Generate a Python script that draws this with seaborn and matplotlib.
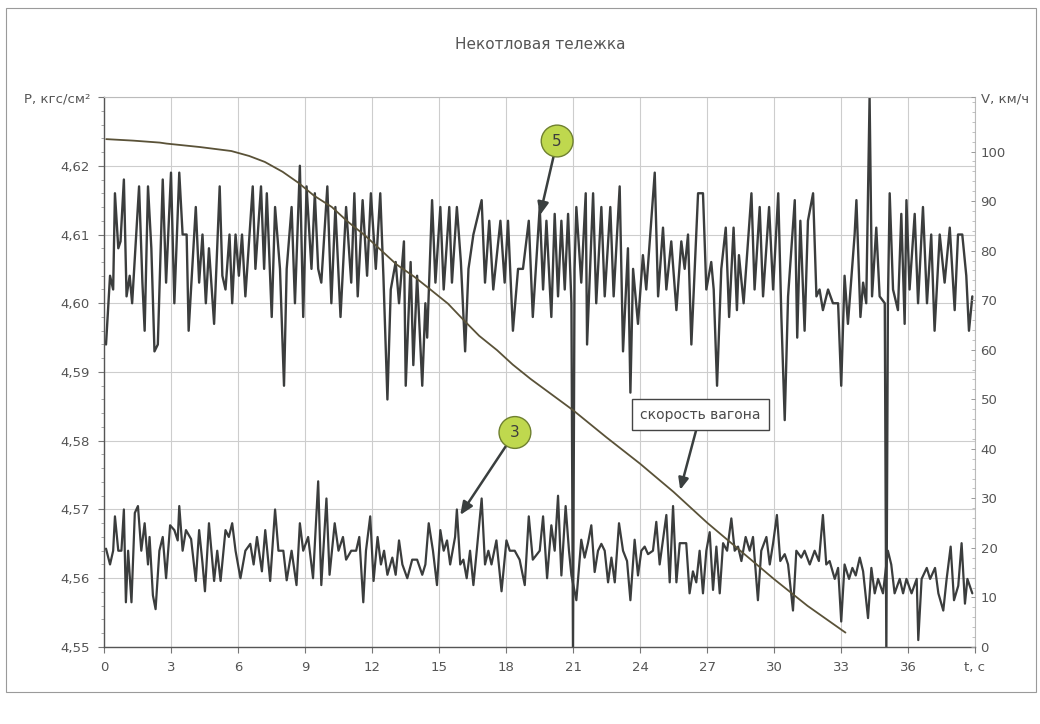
import matplotlib
matplotlib.use("Agg")
import matplotlib.pyplot as plt
from matplotlib.patches import Rectangle
from matplotlib.ticker import FixedLocator, MultipleLocator
import pandas as pd
import seaborn as sns

# --- pressure, curve 5 (кгс/см²) ---
t5 = [0.09, 0.27, 0.41, 0.49, 0.64, 0.74, 0.89, 1.01, 1.15, 1.26, 1.57, 1.72, 1.82, 1.97, 2.12, 2.26, 2.41,
      2.63, 2.78, 3.00, 3.15, 3.37, 3.52, 3.70, 3.79, 4.11, 4.26, 4.41, 4.56, 4.70, 4.93, 5.18, 5.30, 5.44,
      5.62, 5.74, 5.89, 6.04, 6.18, 6.33, 6.66, 6.78, 7.03, 7.17, 7.29, 7.51, 7.66, 7.88, 8.06, 8.18, 8.40,
      8.55, 8.77, 8.92, 9.07, 9.29, 9.44, 9.59, 9.73, 10.00, 10.18, 10.36, 10.59, 10.84, 11.07, 11.21, 11.36,
      11.58, 11.78, 11.95, 12.17, 12.37, 12.51, 12.69, 12.84, 13.06, 13.21, 13.43, 13.51, 13.73, 13.85, 14.02,
      14.25, 14.39, 14.47, 14.69, 14.84, 15.06, 15.21, 15.46, 15.58, 15.80, 15.98, 16.17, 16.32, 16.54, 16.91,
      17.06, 17.25, 17.43, 17.75, 17.94, 18.09, 18.31, 18.54, 18.76, 19.02, 19.20, 19.51, 19.66, 19.81, 20.03,
      20.18, 20.33, 20.48, 20.63, 20.78, 20.93, 21.00, 21.07, 21.15, 21.37, 21.57, 21.63, 21.90, 22.04, 22.27,
      22.42, 22.67, 22.82, 23.09, 23.24, 23.46, 23.57, 23.69, 23.91, 24.13, 24.28, 24.66, 24.81, 25.03, 25.18,
      25.40, 25.63, 25.85, 26.00, 26.15, 26.30, 26.45, 26.60, 26.82, 26.97, 27.19, 27.30, 27.45, 27.64, 27.84,
      27.99, 28.19, 28.34, 28.43, 28.64, 28.99, 29.13, 29.36, 29.51, 29.78, 29.96, 30.19, 30.33, 30.48, 30.63,
      30.93, 31.04, 31.18, 31.37, 31.52, 31.75, 31.90, 32.04, 32.19, 32.42, 32.64, 32.87, 33.01, 33.16, 33.31,
      33.61, 33.69, 33.87, 33.99, 34.13, 34.28, 34.39, 34.58, 34.73, 34.96, 35.03, 35.10, 35.18, 35.33, 35.55,
      35.70, 35.85, 35.93, 36.07, 36.30, 36.45, 36.67, 36.85, 37.04, 37.19, 37.42, 37.64, 37.87, 38.09, 38.24,
      38.43, 38.61, 38.73, 38.88]
p5 = [4.594, 4.604, 4.602, 4.616, 4.608, 4.609, 4.618, 4.601, 4.604, 4.600, 4.617, 4.603, 4.596, 4.617, 4.608,
      4.593, 4.594, 4.618, 4.603, 4.619, 4.600, 4.619, 4.610, 4.610, 4.596, 4.614, 4.603, 4.610, 4.600, 4.608,
      4.597, 4.617, 4.604, 4.602, 4.610, 4.600, 4.610, 4.604, 4.610, 4.601, 4.617, 4.605, 4.617, 4.605, 4.616,
      4.598, 4.614, 4.605, 4.588, 4.605, 4.614, 4.600, 4.620, 4.598, 4.617, 4.605, 4.616, 4.605, 4.603, 4.617,
      4.600, 4.614, 4.598, 4.614, 4.603, 4.616, 4.601, 4.615, 4.604, 4.616, 4.605, 4.616, 4.604, 4.586, 4.602,
      4.606, 4.600, 4.609, 4.588, 4.606, 4.591, 4.604, 4.588, 4.600, 4.595, 4.615, 4.603, 4.614, 4.602, 4.614,
      4.603, 4.614, 4.606, 4.593, 4.605, 4.610, 4.615, 4.603, 4.612, 4.602, 4.612, 4.603, 4.612, 4.596, 4.605,
      4.605, 4.612, 4.598, 4.614, 4.602, 4.612, 4.598, 4.613, 4.601, 4.612, 4.602, 4.613, 4.600, 4.550, 4.605,
      4.614, 4.603, 4.616, 4.594, 4.616, 4.600, 4.614, 4.601, 4.614, 4.601, 4.617, 4.593, 4.608, 4.587, 4.605,
      4.597, 4.607, 4.602, 4.619, 4.601, 4.611, 4.602, 4.609, 4.599, 4.609, 4.605, 4.610, 4.594, 4.605, 4.616,
      4.616, 4.602, 4.606, 4.602, 4.588, 4.605, 4.611, 4.598, 4.611, 4.599, 4.607, 4.600, 4.616, 4.602, 4.614,
      4.601, 4.614, 4.602, 4.616, 4.598, 4.583, 4.601, 4.615, 4.595, 4.612, 4.596, 4.612, 4.616, 4.601, 4.602,
      4.599, 4.602, 4.600, 4.600, 4.588, 4.604, 4.597, 4.610, 4.615, 4.598, 4.603, 4.600, 4.630, 4.601, 4.611,
      4.601, 4.600, 4.550, 4.600, 4.616, 4.602, 4.599, 4.613, 4.597, 4.615, 4.602, 4.613, 4.600, 4.614, 4.600,
      4.610, 4.596, 4.610, 4.603, 4.611, 4.599, 4.610, 4.610, 4.604, 4.596, 4.601]

# --- pressure, curve 3 (кгс/см²) ---
t3 = [0.09, 0.27, 0.41, 0.49, 0.64, 0.78, 0.89, 0.98, 1.08, 1.23, 1.38, 1.52, 1.67, 1.82, 1.97, 2.04, 2.19,
      2.31, 2.48, 2.63, 2.78, 2.96, 3.15, 3.30, 3.37, 3.52, 3.67, 3.90, 4.11, 4.26, 4.41, 4.52, 4.70, 4.93,
      5.07, 5.22, 5.44, 5.59, 5.74, 5.89, 6.11, 6.33, 6.55, 6.70, 6.85, 7.07, 7.22, 7.44, 7.66, 7.81, 8.03,
      8.18, 8.40, 8.62, 8.77, 8.92, 9.14, 9.36, 9.59, 9.73, 9.96, 10.10, 10.33, 10.50, 10.70, 10.84, 11.07,
      11.29, 11.43, 11.61, 11.73, 11.92, 12.07, 12.25, 12.40, 12.54, 12.69, 12.91, 13.06, 13.21, 13.36, 13.58,
      13.80, 14.02, 14.25, 14.39, 14.54, 14.73, 14.91, 15.06, 15.21, 15.36, 15.50, 15.72, 15.80, 15.95, 16.09,
      16.24, 16.39, 16.54, 16.69, 16.91, 17.06, 17.21, 17.35, 17.57, 17.80, 18.02, 18.17, 18.39, 18.61, 18.84,
      19.02, 19.20, 19.51, 19.66, 19.84, 20.03, 20.18, 20.33, 20.48, 20.67, 20.82, 20.93, 21.15, 21.37, 21.52,
      21.67, 21.82, 21.97, 22.12, 22.27, 22.42, 22.57, 22.72, 22.87, 23.06, 23.24, 23.42, 23.57, 23.76, 23.91,
      24.06, 24.21, 24.36, 24.58, 24.73, 24.88, 25.03, 25.18, 25.33, 25.48, 25.63, 25.78, 26.07, 26.22, 26.37,
      26.52, 26.67, 26.82, 26.97, 27.12, 27.27, 27.42, 27.57, 27.72, 27.90, 28.09, 28.24, 28.39, 28.54, 28.73,
      28.91, 29.06, 29.28, 29.43, 29.66, 29.81, 29.96, 30.13, 30.28, 30.48, 30.63, 30.85, 31.00, 31.22, 31.37,
      31.60, 31.82, 32.01, 32.19, 32.34, 32.49, 32.72, 32.87, 33.01, 33.16, 33.36, 33.51, 33.66, 33.84, 33.99,
      34.21, 34.36, 34.51, 34.66, 34.88, 35.10, 35.25, 35.40, 35.63, 35.78, 35.93, 36.16, 36.39, 36.46, 36.61,
      36.84, 36.99, 37.21, 37.36, 37.58, 37.73, 37.91, 38.06, 38.25, 38.40, 38.55, 38.66, 38.88]
p3 = [4.5643, 4.5620, 4.5640, 4.5690, 4.5640, 4.5640, 4.5700, 4.5565, 4.5640, 4.5565, 4.5695, 4.5705, 4.5640,
      4.5680, 4.5620, 4.5660, 4.5575, 4.5555, 4.5640, 4.5660, 4.5600, 4.5677, 4.5670, 4.5655, 4.5705, 4.5640,
      4.5670, 4.5657, 4.5596, 4.5670, 4.5622, 4.5581, 4.5680, 4.5596, 4.5640, 4.5596, 4.5670, 4.5660, 4.5680,
      4.5640, 4.5600, 4.5640, 4.5650, 4.5620, 4.5660, 4.5610, 4.5670, 4.5596, 4.5700, 4.5640, 4.5640, 4.5597,
      4.5640, 4.5590, 4.5680, 4.5640, 4.5660, 4.5600, 4.5741, 4.5590, 4.5716, 4.5605, 4.5680, 4.5640, 4.5660,
      4.5627, 4.5640, 4.5640, 4.5660, 4.5565, 4.5640, 4.5690, 4.5596, 4.5660, 4.5620, 4.5640, 4.5605, 4.5630,
      4.5605, 4.5655, 4.5620, 4.5600, 4.5627, 4.5627, 4.5605, 4.5620, 4.5680, 4.5640, 4.5590, 4.5670, 4.5640,
      4.5655, 4.5620, 4.5660, 4.5700, 4.5620, 4.5627, 4.5600, 4.5640, 4.5590, 4.5640, 4.5716, 4.5620, 4.5640,
      4.5620, 4.5655, 4.5581, 4.5655, 4.5640, 4.5640, 4.5627, 4.5590, 4.5690, 4.5627, 4.5640, 4.5690, 4.5600,
      4.5677, 4.5640, 4.5720, 4.5604, 4.5705, 4.5640, 4.5604, 4.5568, 4.5656, 4.5630, 4.5651, 4.5677, 4.5609,
      4.5640, 4.5650, 4.5640, 4.5594, 4.5630, 4.5594, 4.5680, 4.5640, 4.5625, 4.5568, 4.5656, 4.5604, 4.5640,
      4.5646, 4.5635, 4.5640, 4.5682, 4.5620, 4.5656, 4.5692, 4.5594, 4.5705, 4.5594, 4.5651, 4.5651, 4.5578,
      4.5610, 4.5594, 4.5640, 4.5578, 4.5640, 4.5667, 4.5583, 4.5646, 4.5578, 4.5651, 4.5640, 4.5687, 4.5640,
      4.5646, 4.5625, 4.5660, 4.5640, 4.5660, 4.5568, 4.5640, 4.5660, 4.5620, 4.5651, 4.5692, 4.5625, 4.5635,
      4.5620, 4.5553, 4.5640, 4.5630, 4.5640, 4.5620, 4.5640, 4.5625, 4.5692, 4.5620, 4.5625, 4.5599, 4.5615,
      4.5537, 4.5620, 4.5599, 4.5615, 4.5604, 4.5630, 4.5610, 4.5542, 4.5615, 4.5578, 4.5599, 4.5578, 4.5640,
      4.5620, 4.5578, 4.5599, 4.5578, 4.5599, 4.5578, 4.5599, 4.5510, 4.5599, 4.5615, 4.5599, 4.5615, 4.5578,
      4.5553, 4.5599, 4.5646, 4.5568, 4.5589, 4.5651, 4.5563, 4.5599, 4.5578]

# --- wagon speed (км/ч) ---
t_v = [0.1, 1.3, 2.5, 2.8, 4.3, 5.7, 6.5, 7.2, 8.0, 8.7, 9.4, 10.2, 10.9, 11.7, 12.4, 13.1, 13.9, 14.6,
       15.4, 16.1, 16.8, 17.6, 18.3, 19.1, 21.0, 22.5, 24.0, 25.5, 27.0, 28.5, 30.0, 31.5, 33.2]
v = [102.5, 102.2, 101.8, 101.6, 100.9, 100.1, 99.1, 97.9, 95.9, 93.7, 91.1, 88.8, 85.9, 83.0, 80.1, 77.2,
     74.7, 72.2, 69.3, 66.0, 62.8, 59.9, 57.0, 54.1, 47.8, 42.3, 37.0, 31.3, 25.1, 19.4, 13.7, 8.3, 2.9]

# --- axes ticks and labels ---
x_ticks = [0, 3, 6, 9, 12, 15, 18, 21, 24, 27, 30, 33, 36, 39]
x_labels = ["0", "3", "6", "9", "12", "15", "18", "21", "24", "27", "30", "33", "36", "t, c"]
p_ticks = [4.55, 4.56, 4.57, 4.58, 4.59, 4.60, 4.61, 4.62, 4.63]
p_labels = ["4,55", "4,56", "4,57", "4,58", "4,59", "4,60", "4,61", "4,62", "Р, кгс/см²"]
v_ticks = [0, 10, 20, 30, 40, 50, 60, 70, 80, 90, 100, 111]
v_labels = ["0", "10", "20", "30", "40", "50", "60", "70", "80", "90", "100", "V, км/ч"]

sns.set_theme(style="white")
plt.rcParams["font.family"] = ["DejaVu Sans"]

TXT = "#555555"
LINE = "#3b3d3d"
GRID = "#cdcdcd"

fig = plt.figure(figsize=(10.4, 7.24), dpi=100)
fig.patch.set_facecolor("white")
ax = fig.add_axes([0.1, 0.1064, 0.8375, 0.7596])

df5 = pd.DataFrame({"t": t5, "p": p5})
df3 = pd.DataFrame({"t": t3, "p": p3})
dfv = pd.DataFrame({"t": t_v, "v": v})

sns.lineplot(data=df5, x="t", y="p", ax=ax, color=LINE, lw=1.7, sort=False, estimator=None)
sns.lineplot(data=df3, x="t", y="p", ax=ax, color=LINE, lw=1.6, sort=False, estimator=None)

ax.set_xlim(0, 39)
ax.set_ylim(4.55, 4.63)
ax.xaxis.set_major_locator(FixedLocator(x_ticks))
ax.set_xticklabels(x_labels)
ax.yaxis.set_major_locator(FixedLocator(p_ticks))
ax.set_yticklabels(p_labels)
ax.yaxis.set_minor_locator(MultipleLocator(0.002))
ax.set_xlabel("")
ax.set_ylabel("")
ax.grid(True, which="major", color=GRID, lw=0.8)
ax.tick_params(axis="both", which="major", labelsize=9.5, labelcolor=TXT, color="#777777",
               length=4, width=0.8, direction="out", left=True, bottom=True, pad=6)
ax.tick_params(axis="y", which="minor", length=2, width=0.6, color="#999999", left=True)
for side in ["left", "bottom"]:
    ax.spines[side].set_color("#555555")
    ax.spines[side].set_linewidth(1.0)
for side in ["top", "right"]:
    ax.spines[side].set_color("#bbbbbb")
    ax.spines[side].set_linewidth(0.8)

ax2 = ax.twinx()
sns.lineplot(data=dfv, x="t", y="v", ax=ax2, color="#5a5238", lw=1.3, sort=False, estimator=None)
ax2.set_ylim(0, 111)
ax2.yaxis.set_major_locator(FixedLocator(v_ticks))
ax2.set_yticklabels(v_labels)
ax2.yaxis.set_minor_locator(MultipleLocator(2))
ax2.set_ylabel("")
ax2.grid(False)
ax2.tick_params(axis="y", which="major", labelsize=9.5, labelcolor=TXT, color="#999999",
                length=3, width=0.7, direction="in", right=True, pad=4)
ax2.tick_params(axis="y", which="minor", length=2, width=0.5, color="#aaaaaa", direction="in", right=True)
for side in ax2.spines.values():
    side.set_visible(False)

# callouts
circle_style = dict(boxstyle="circle,pad=0.55", fc="#bfd84e", ec="#6f8030", lw=1.0)
arrow_style = dict(arrowstyle="-|>,head_length=0.7,head_width=0.3", color="#3a3f3f", lw=1.8,
                   shrinkA=0, shrinkB=0)
ax.annotate("5", xy=(19.52, 4.6128), xytext=(20.29, 4.6236), fontsize=11, color="#3d3d3d",
            ha="center", va="center", bbox=circle_style, arrowprops=arrow_style, zorder=6)
ax.annotate("3", xy=(15.95, 4.5692), xytext=(18.4, 4.5812), fontsize=11, color="#3d3d3d",
            ha="center", va="center", bbox=circle_style, arrowprops=arrow_style, zorder=6)
ax2.annotate("скорость вагона", xy=(25.8, 31.7), xytext=(26.7, 46.9), fontsize=10, color="#4a4a4a",
             ha="center", va="center",
             bbox=dict(boxstyle="square,pad=0.6", fc="white", ec="#444444", lw=1.0),
             arrowprops=arrow_style, zorder=6)

fig.text(0.519, 0.938, "Некотловая тележка", ha="center", va="center", fontsize=11, color=TXT)
fig.patches.append(Rectangle((6 / 1040, 1 - 692 / 724), 1030 / 1040, 684 / 724,
                             transform=fig.transFigure, fill=False, ec="#9a9a9a", lw=0.8))

fig.savefig("out.png", dpi=100, facecolor="white")
